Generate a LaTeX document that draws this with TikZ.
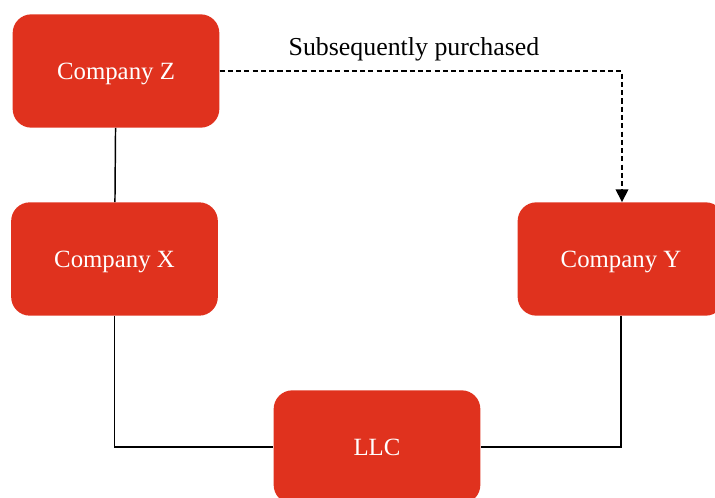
\documentclass[tikz,border=0pt]{standalone}
\usepackage{fontspec}
\setmainfont{Liberation Serif}
\usetikzlibrary{arrows.meta}
\definecolor{boxred}{RGB}{224,50,30}
\tikzset{
  company/.style={fill=boxred, draw=none, rounded corners=14pt, text=white,
    minimum width=155pt, minimum height=85pt, inner sep=0pt,
    text depth=0pt, font=\fontsize{18.6}{20}\selectfont},
  link/.style={line width=1.1pt, black},
  buylink/.style={line width=1.1pt, black, dashed, dash pattern=on 3.8pt off 2.4pt,
    -{Triangle[length=9.5pt,width=9.5pt]}}
}
\begin{document}
\begin{tikzpicture}[x=0.75pt,y=-0.75pt]
  \useasboundingbox (0,0) rectangle (715,498);
  \clip (0,0) rectangle (715,498);
  \node[company] (Z) at (116,71) {Company Z};
  \node[company] (X) at (114.5,259) {Company X};
  \node[company] (Y) at (621,259) {Company Y};
  \node[company] (L) at (377,447) {LLC};
  \coordinate (bend) at (622,71);
  \draw[link] (Z) -- (X);
  \draw[link] (X.south) |- (L.west);
  \draw[link] (Y.south) |- (L.east);
  \draw[buylink] (Z.east) -- (bend) -- (bend |- Y.north);
  \node[font=\fontsize{19.4}{21}\selectfont, anchor=base] (lbl) at (414,56) {Subsequently purchased};
\end{tikzpicture}
\end{document}
